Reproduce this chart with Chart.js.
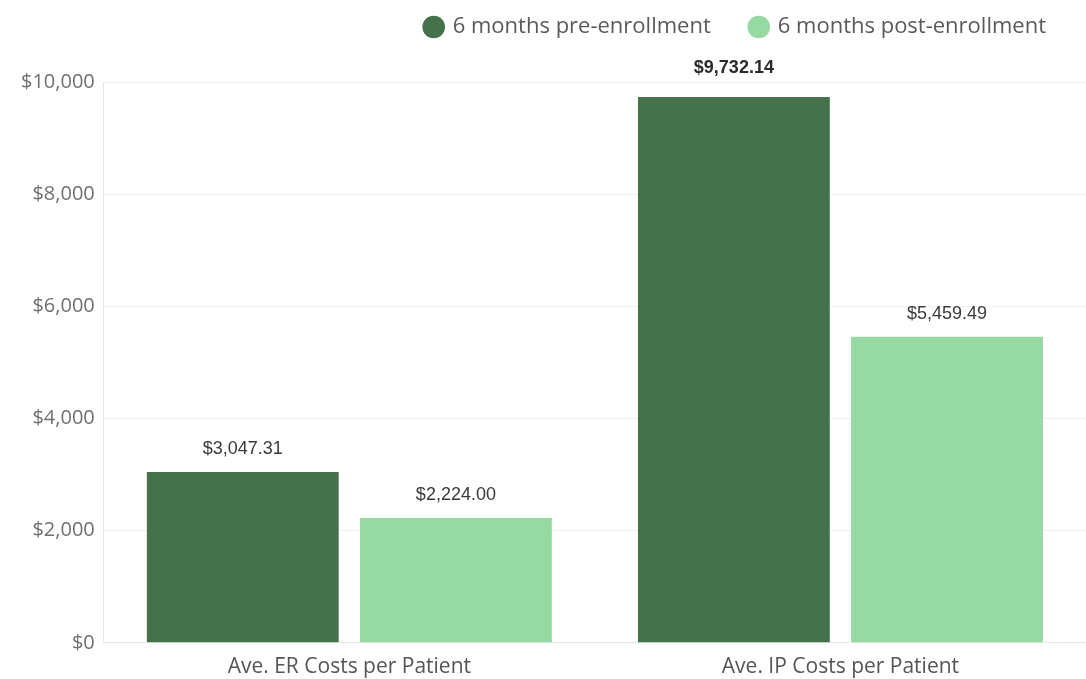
<!DOCTYPE html>
<html>
<head>
<meta charset="utf-8">
<script src="https://cdn.jsdelivr.net/npm/chart.js@4"></script>
<style>
  html, body { margin: 0; padding: 0; background: #fff; }
  #wrap { width: 1086px; height: 679px; position: relative; }
</style>
</head>
<body>
<div id="wrap"><canvas id="costChart"></canvas></div>
<script>
// ---- data ----
const categories = ["Ave. ER Costs per Patient", "Ave. IP Costs per Patient"];
const seriesNames = ["6 months pre-enrollment", "6 months post-enrollment"];
const preEnrollment = [3047.31, 9732.14];
const postEnrollment = [2224.00, 5459.49];
const yTicks = [0, 2000, 4000, 6000, 8000, 10000];

const DARK = "#45724b";
const LIGHT = "#97d9a2";
const FONT = "'Open Sans', sans-serif";

const money0 = v => "$" + v.toLocaleString("en-US");
const money2 = v => "$" + v.toLocaleString("en-US", { minimumFractionDigits: 2, maximumFractionDigits: 2 });

// value text above each bar (largest one in bold)
const valueLabels = {
  id: "valueLabels",
  afterDatasetsDraw(chart) {
    const ctx = chart.ctx;
    const maxVal = Math.max(...preEnrollment, ...postEnrollment);
    ctx.save();
    ctx.textAlign = "center";
    ctx.textBaseline = "middle";
    chart.data.datasets.forEach((ds, i) => {
      chart.getDatasetMeta(i).data.forEach((bar, j) => {
        const v = ds.data[j];
        const isMax = v === maxVal;
        ctx.font = (isMax ? "bold " : "") + "18px 'Liberation Sans', Arial, sans-serif";
        ctx.fillStyle = isMax ? "#2b2b2b" : "#3a3a3a";
        ctx.fillText(money2(v), bar.x, bar.y - (isMax ? 29 : 23));
      });
    });
    ctx.restore();
  }
};

// extra room under the legend
const legendGap = {
  id: "legendGap",
  beforeInit(chart) {
    const fit = chart.legend.fit;
    chart.legend.fit = function () {
      fit.call(this);
      this.height += 34;
    };
  }
};

new Chart(document.getElementById("costChart"), {
  type: "bar",
  data: {
    labels: categories,
    datasets: [
      { label: seriesNames[0], data: preEnrollment, backgroundColor: DARK },
      { label: seriesNames[1], data: postEnrollment, backgroundColor: LIGHT }
    ]
  },
  options: {
    responsive: true,
    maintainAspectRatio: false,
    animation: false,
    categoryPercentage: 0.868,
    barPercentage: 0.9,
    layout: { padding: { top: -24, right: 0, left: 12, bottom: -13 } },
    plugins: {
      tooltip: { enabled: false },
      legend: {
        position: "top",
        align: "end",
        labels: {
          usePointStyle: true,
          pointStyle: "circle",
          boxWidth: 16,
          boxHeight: 16,
          padding: 40,
          color: "#5a5a5a",
          font: { family: FONT, size: 22 }
        }
      }
    },
    scales: {
      x: {
        grid: { display: false, drawTicks: false },
        border: { color: "#e6e6e6" },
        ticks: {
          color: "#555",
          padding: 12,
          font: { family: FONT, size: 21 }
        }
      },
      y: {
        min: 0,
        max: 10000,
        afterBuildTicks: axis => { axis.ticks = yTicks.map(v => ({ value: v })); },
        grid: { color: "#efefef", drawTicks: false },
        border: { color: "#e6e6e6" },
        ticks: {
          color: "#707070",
          padding: 9,
          font: { family: FONT, size: 20 },
          callback: v => money0(v)
        }
      }
    }
  },
  plugins: [valueLabels, legendGap]
});
</script>
</body>
</html>
